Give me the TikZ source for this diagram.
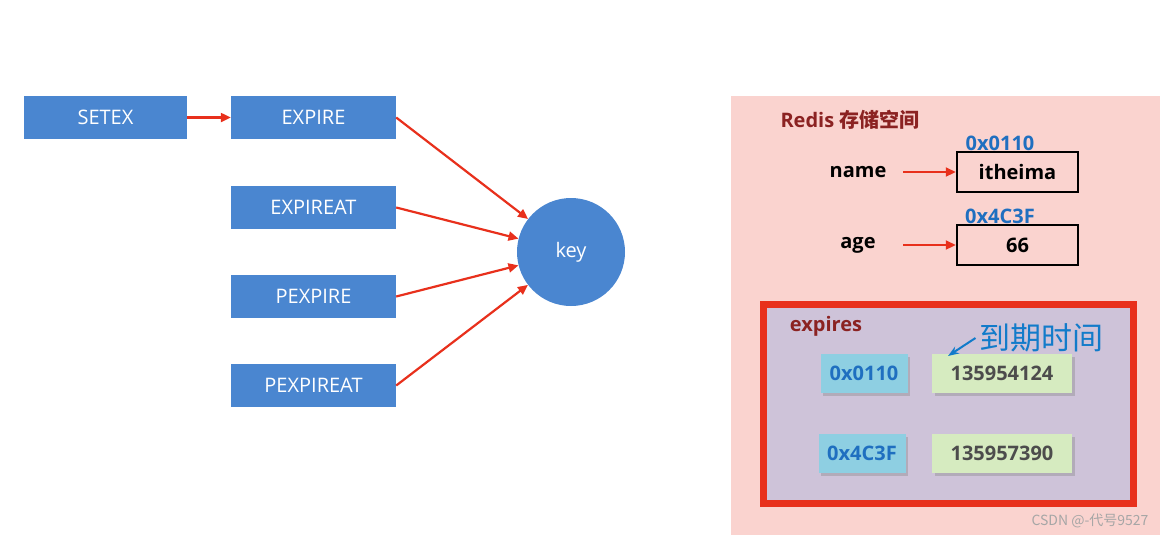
\documentclass[tikz,border=0pt]{standalone}
\usepackage{fontspec}
\setmainfont{Open Sans}
\newfontfamily\cjk{Noto Sans CJK SC}
\usetikzlibrary{arrows.meta,shadows}
\definecolor{bl}{HTML}{4A86D0}
\definecolor{rd}{HTML}{E8301C}
\definecolor{dred}{HTML}{8B2222}
\definecolor{addr}{HTML}{1F6FC0}
\definecolor{cyb}{HTML}{8ECFE2}
\definecolor{grb}{HTML}{D6EBC0}
\definecolor{pan}{HTML}{FAD3CF}
\definecolor{exf}{HTML}{CEC3D9}
\begin{document}
\begin{tikzpicture}[x=1pt,y=-1pt,
 cmd/.style={fill=bl,text=white,minimum width=165pt,minimum height=43pt,font=\fontsize{20}{22}\selectfont},
 arr/.style={rd,line width=2.2pt,-{Triangle[length=10pt,width=9pt]}},
 val/.style={draw=black,line width=2.5pt,minimum width=121pt,minimum height=40pt,font=\bfseries\fontsize{20}{22}\selectfont},
 lbl/.style={font=\bfseries\fontsize{20}{22}\selectfont},
 ad/.style={text=addr,font=\bfseries\fontsize{20}{22}\selectfont},
 cy/.style={fill=cyb,text=addr,drop shadow={opacity=0.35},minimum width=87pt,minimum height=39pt,font=\bfseries\fontsize{20}{22}\selectfont},
 gr/.style={fill=grb,text=black!70,drop shadow={opacity=0.35},minimum width=140pt,minimum height=39pt,font=\bfseries\fontsize{20}{22}\selectfont}]
\useasboundingbox (0,0) rectangle (1176,539);
\fill[white] (0,0) rectangle (1176,539);
\node[cmd,minimum width=163pt] (setex) at (105.5,117.5) {SETEX};
\node[cmd] (expire) at (313.5,117.5) {EXPIRE};
\node[cmd] (expireat) at (313.5,207.5) {EXPIREAT};
\node[cmd] (pexpire) at (313.5,296.5) {PEXPIRE};
\node[cmd] (pexpireat) at (313.5,385.5) {PEXPIREAT};
\node[circle,fill=bl,text=white,minimum size=108pt,font=\fontsize{20}{22}\selectfont] (key) at (571,252) {key};
\draw[arr] (setex) -- (expire);
\draw[arr] (expire.east) -- (key);
\draw[arr] (expireat.east) -- (key);
\draw[arr] (pexpire.east) -- (key);
\draw[arr] (pexpireat.east) -- (key);
% right panel
\fill[pan] (731,96) rectangle (1160,535);
\node[anchor=west,text=dred,font=\bfseries\fontsize{20}{22}\selectfont] (title) at (777,120) {Redis {\cjk 存储空间}};
\node[ad] (a1) at (1000,143) {0x0110};
\node[lbl] (name) at (858,172) {name};
\node[val] (v1) at (1017.5,172) {itheima};
\node[ad] (a2) at (1000,216) {0x4C3F};
\node[lbl] (age) at (858,245) {age};
\node[val] (v2) at (1017.5,245) {66};
\coordinate (n1) at (903,172);
\coordinate (n2) at (903,245);
\draw[arr] (n1) -- (v1);
\draw[arr] (n2) -- (v2);
\draw[rd,line width=7pt,fill=exf] (763,304) rectangle (1133,503);
\node[text=dred,font=\bfseries\fontsize{20}{22}\selectfont] (exp) at (826,326) {expires};
\node[cy] (c1) at (864,373.5) {0x0110};
\node[gr] (g1) at (1002,373.5) {135954124};
\node[cy] (c2) at (862,453.5) {0x4C3F};
\node[gr] (g2) at (1002,453.5) {135957390};
\node[text=cyan!60!blue,font=\cjk\fontsize{31}{33}\selectfont] (dq) at (1041,338) {到期时间};
\draw[cyan!60!blue,line width=2pt,-{Stealth[length=11pt,width=8pt]}] (dq.west) -- (948,356);
\node[text=gray!70,font=\cjk\fontsize{14}{16}\selectfont] (wm) at (1090,521) {CSDN @-代号9527};
\end{tikzpicture}
\end{document}
